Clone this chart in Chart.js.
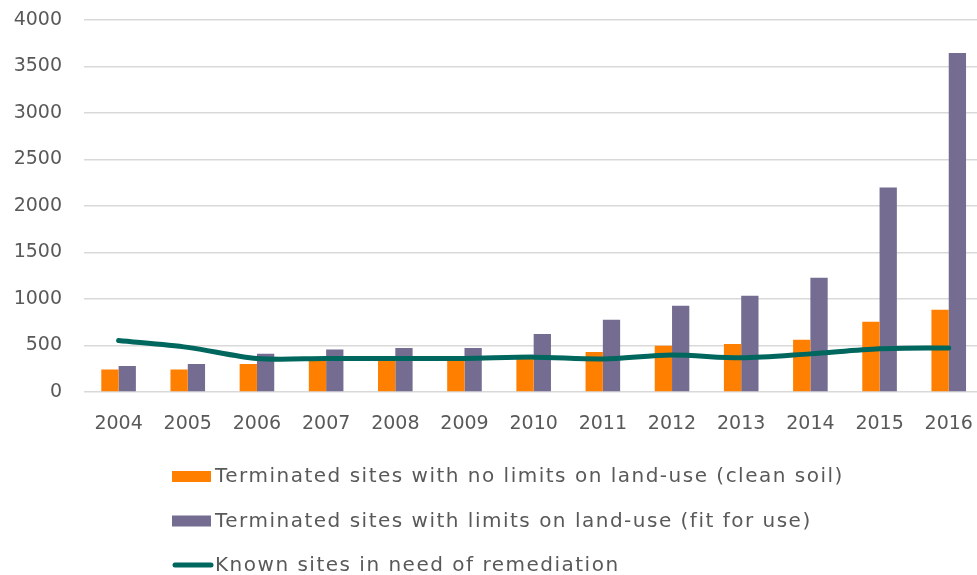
<!DOCTYPE html>
<html>
<head>
<meta charset="utf-8">
<script src="https://cdn.jsdelivr.net/npm/chart.js@4.4.0/dist/chart.umd.min.js"></script>
<style>
  html, body { margin: 0; padding: 0; background: #fff; overflow: hidden; }
  #wrap { width: 986px; height: 575px; position: relative; }
</style>
</head>
<body>
<div id="wrap"><canvas id="myChart"></canvas></div>
<script>
var years = ['2004','2005','2006','2007','2008','2009','2010','2011','2012','2013','2014','2015','2016'];
var cleanSoil = [241, 241, 302, 350, 355, 350, 380, 431, 496, 517, 561, 755, 884];
var fitForUse = [280, 302, 410, 457, 474, 474, 625, 776, 927, 1035, 1229, 2199, 3644];
var knownSites = [554, 480, 360, 360, 360, 360, 375, 356, 399, 367, 410, 464, 474];
var yTicks = [0, 500, 1000, 1500, 2000, 2500, 3000, 3500, 4000];

var textColor = '#595959';

// legend stacked one item per row, drawn under the axis
var rowLegend = {
    id: 'rowLegend',
    afterDraw: function(chart) {
        var ctx = chart.ctx;
        var sets = chart.data.datasets;
        var x = 172;
        var y = 476;
        ctx.save();
        ctx.font = '20px "DejaVu Sans"';
        ctx.letterSpacing = '1.5px';
        ctx.textBaseline = 'middle';
        ctx.textAlign = 'left';
        for (var i = 0; i < sets.length; i++) {
            var ds = sets[i];
            if (ds.type === 'line') {
                ctx.strokeStyle = ds.borderColor;
                ctx.lineWidth = 5;
                ctx.lineCap = 'round';
                ctx.beginPath();
                ctx.moveTo(x + 3, y);
                ctx.lineTo(x + 39, y);
                ctx.stroke();
            } else {
                ctx.fillStyle = ds.backgroundColor;
                ctx.fillRect(x, y - 5, 39, 11);
            }
            ctx.fillStyle = textColor;
            ctx.fillText(ds.label, x + 43, y + 1);
            y += 44.5;
        }
        ctx.restore();
    }
};

var ctx = document.getElementById('myChart').getContext('2d');
var myChart = new Chart(ctx, {
    type: 'bar',
    data: {
        labels: years,
        datasets: [{
            label: 'Terminated sites with no limits on land-use (clean soil)',
            data: cleanSoil,
            backgroundColor: '#FF7F00',
            order: 1
        }, {
            label: 'Terminated sites with limits on land-use (fit for use)',
            data: fitForUse,
            backgroundColor: '#756C92',
            order: 1
        }, {
            type: 'line',
            label: 'Known sites in need of remediation',
            data: knownSites,
            borderColor: '#00675E',
            borderWidth: 5,
            pointRadius: 0,
            tension: 0.3,
            fill: false,
            borderCapStyle: 'round',
            order: 0
        }]
    },
    options: {
        responsive: true,
        maintainAspectRatio: false,
        animation: false,
        datasets: {
            bar: { categoryPercentage: 0.5, barPercentage: 1.0 }
        },
        layout: {
            padding: { left: 0, right: 2, top: 20, bottom: 140 }
        },
        plugins: {
            legend: { display: false },
            tooltip: { enabled: false }
        },
        scales: {
            x: {
                grid: { display: false },
                border: { display: false },
                ticks: {
                    color: textColor,
                    font: { family: 'DejaVu Sans', size: 19 },
                    padding: 13,
                    maxRotation: 0
                },
                afterFit: function(scale) { scale.height = 43; }
            },
            y: {
                min: 0,
                max: 4000,
                afterBuildTicks: function(scale) {
                    scale.ticks = yTicks.map(function(v) { return { value: v }; });
                },
                grid: { color: '#D9D9D9', lineWidth: 1.5, drawTicks: false },
                border: { display: false },
                ticks: {
                    color: textColor,
                    font: { family: 'DejaVu Sans', size: 19 },
                    padding: 22,
                    callback: function(v) { return String(v); }
                },
                afterFit: function(scale) {
                    scale.width = 84;
                    scale.paddingTop = 12;
                    scale.paddingBottom = 12;
                }
            }
        }
    },
    plugins: [rowLegend]
});
</script>
</body>
</html>
